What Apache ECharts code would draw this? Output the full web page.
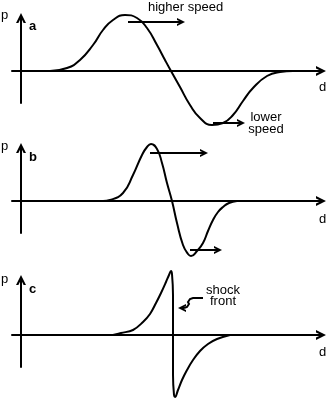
<!DOCTYPE html>
<html><head><meta charset="utf-8">
<script src="https://cdn.jsdelivr.net/npm/echarts@6/dist/echarts.min.js"></script>
<style>html,body{margin:0;padding:0;background:#fff}#c{width:330px;height:400px}</style>
</head><body><div id="c"></div>
<script>
// Panel a: smooth pressure pulse
const dA = [29,46,59,72,82,92,104,116,126,136,144,150,159,169,179,191,202,212,222,232,246,259,272];
const pA = [0,3,11,26,41,51,56,53,43,26,11,0,-16,-34,-47,-54,-52,-44,-30,-17,-5,-1,0];
// Panel b: steepened pulse
const dB = [82,89,102,112,121,126,130,136,141,146,151,156,162,167,170,176,182,187,192,197,202,208,216];
const pB = [0,1,8,26,46,54,57,52,38,18,0,-22,-44,-53,-55,-50,-42,-30,-19,-11,-6,-2,0];
// Panel c: shock front
const dC = [92,100,112,122,129,135,140,145,148,150,151,152,152,153,154,157,161,166,172,179,187,196,209];
const pC = [0,2,5,13,21,32,42,53,60,64,61,40,-40,-60,-62,-55,-45,-35,-25,-16,-9,-4,0];

// Speed arrows (start, end) in data units
const arrowsA = [[[107,49],[160,49]],[[192,-52],[220,-52]]];
const arrowsB = [[[129,48],[183,48]],[[169,-49],[197,-49]]];
const shockWave = [[182,37],[172,37],[169,36],[167,33],[168,31],[166,28],[163,27]];
const shockHead = [[163,27],[161,27]];

const panelLetters = ['a','b','c'];

const chart = echarts.init(document.getElementById('c'), null, {renderer:'canvas'});
const chev = 'path://M0,10L5,0L10,10L7.6,10L5,4.8L2.4,10Z';
const G = [{top:18,h:85,min:-32,max:53},{top:148,h:85,min:-32,max:53},{top:280,h:87,min:-32,max:55}];
const font = 'Arial, "Liberation Sans", sans-serif';

const grid = G.map(g => ({left:12, right:9, top:g.top, height:g.h}));
const xAxis = G.map((g,i) => ({type:'value', gridIndex:i, min:-9, max:300,
  axisLine:{show:true, onZero:true, symbol:['none',chev], symbolSize:[10,10], lineStyle:{color:'#000', width:2}},
  axisTick:{show:false}, axisLabel:{show:false}, splitLine:{show:false}}));
const yAxis = G.map((g,i) => ({type:'value', gridIndex:i, min:g.min, max:g.max,
  axisLine:{show:true, onZero:true, symbol:['none',chev], symbolSize:[10,10], lineStyle:{color:'#000', width:2}},
  axisTick:{show:false}, axisLabel:{show:false}, splitLine:{show:false}}));

const zip = (a,b) => a.map((v,i) => [v,b[i]]);
function curve(i, d, p, smooth){
  return {type:'line', xAxisIndex:i, yAxisIndex:i, data:zip(d,p), symbol:'none', smooth:smooth,
    clip:false, lineStyle:{color:'#000', width:2}, silent:true, animation:false};
}
function arrows(i, list){
  return {type:'lines', coordinateSystem:'cartesian2d', xAxisIndex:i, yAxisIndex:i, clip:false,
    silent:true, animation:false, symbol:['none',chev], symbolSize:[10,8],
    lineStyle:{color:'#000', width:2, opacity:1, curveness:0}, data:list.map(a => ({coords:a}))};
}
const series = [
  curve(0,dA,pA,0.5),
  curve(1,dB,pB,0.5),
  curve(2,dC,pC,0.4),
  arrows(0, arrowsA),
  arrows(1, arrowsB),
  {type:'lines', coordinateSystem:'cartesian2d', xAxisIndex:2, yAxisIndex:2, polyline:true, clip:false,
   silent:true, animation:false, lineStyle:{color:'#000', width:2, opacity:1}, data:[{coords:shockWave}]},
  Object.assign(arrows(2, [shockHead]), {symbolSize:[11,8]})
];

const txt = (x,y,t,extra) => ({type:'text', x:x, y:y, silent:true,
  style:Object.assign({text:t, fill:'#000', font:'13px '+font, textVerticalAlign:'middle', verticalAlign:'middle'}, extra||{})});
const labelY = [[15,26,87],[146,157,219],[279,289,352]];
const graphic = [];
labelY.forEach((ly,i) => {
  graphic.push(txt(1, ly[0], 'p'));
  graphic.push(txt(29, ly[1], panelLetters[i], {font:'bold 13px '+font}));
  graphic.push(txt(319, ly[2], 'd'));
});
graphic.push(txt(148, 7, 'higher speed'));
graphic.push(txt(266, 117, 'lower', {textAlign:'center', align:'center'}));
graphic.push(txt(266, 129, 'speed', {textAlign:'center', align:'center'}));
graphic.push(txt(223, 290, 'shock', {textAlign:'center', align:'center'}));
graphic.push(txt(223, 301, 'front', {textAlign:'center', align:'center'}));

chart.setOption({animation:false, grid, xAxis, yAxis, series, graphic});
</script></body></html>
